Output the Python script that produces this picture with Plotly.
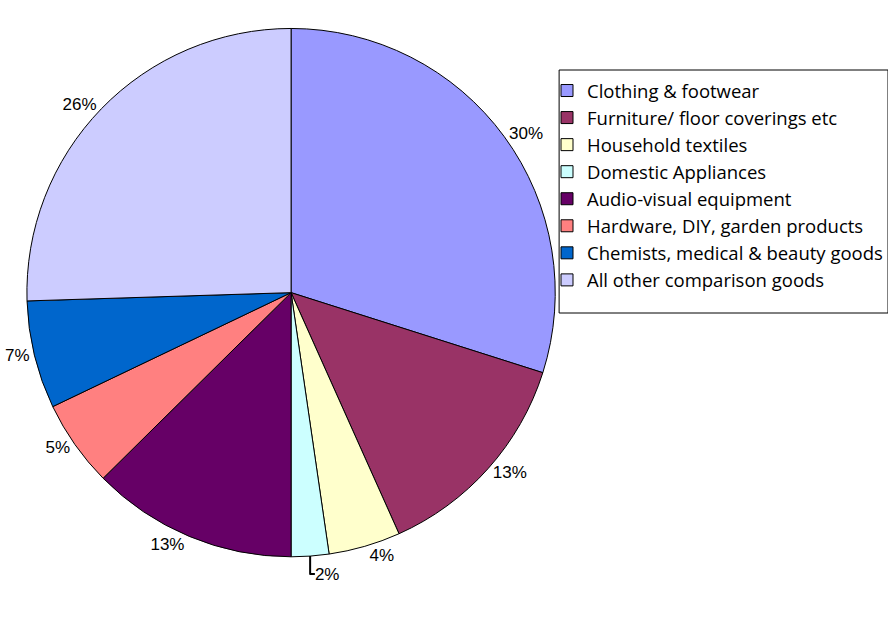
import plotly.graph_objects as go

categories = ["Clothing & footwear", "Furniture/ floor coverings etc", "Household textiles",
              "Domestic Appliances", "Audio-visual equipment", "Hardware, DIY, garden products",
              "Chemists, medical & beauty goods", "All other comparison goods"]
values = [29.9, 13.4, 4.4, 2.3, 12.6, 5.3, 6.6, 25.5]
colors = ["#9999FF", "#993366", "#FFFFCC", "#CCFFFF", "#660066", "#FF8080", "#0066CC", "#CCCCFF"]

fig = go.Figure(go.Pie(
    labels=categories, values=values, sort=False, direction="clockwise", rotation=0,
    marker=dict(colors=colors, line=dict(color="black", width=1)),
    textinfo="percent", texttemplate="%{percent:.0%}", textposition="outside",
    textfont=dict(family="Liberation Sans, Arial", size=17, color="black"),
    domain=dict(x=[0.027, 0.624], y=[0.115, 0.956]),
    hoverinfo="label+percent",
))
fig.update_layout(
    width=888, height=630, margin=dict(l=0, r=0, t=0, b=0),
    paper_bgcolor="white", plot_bgcolor="white",
    showlegend=True,
    legend=dict(x=546/888, y=1-72/630, xanchor="left", yanchor="top",
                font=dict(family="Open Sans", size=18.5, color="black"),
                bgcolor="rgba(0,0,0,0)", borderwidth=0, itemwidth=30),
    shapes=[dict(type="rect", xref="paper", yref="paper", x0=558/888, x1=1.0,
                 y0=1-313/630, y1=1-70/630, line=dict(color="black", width=1))],
)
fig.write_html("out.html")
